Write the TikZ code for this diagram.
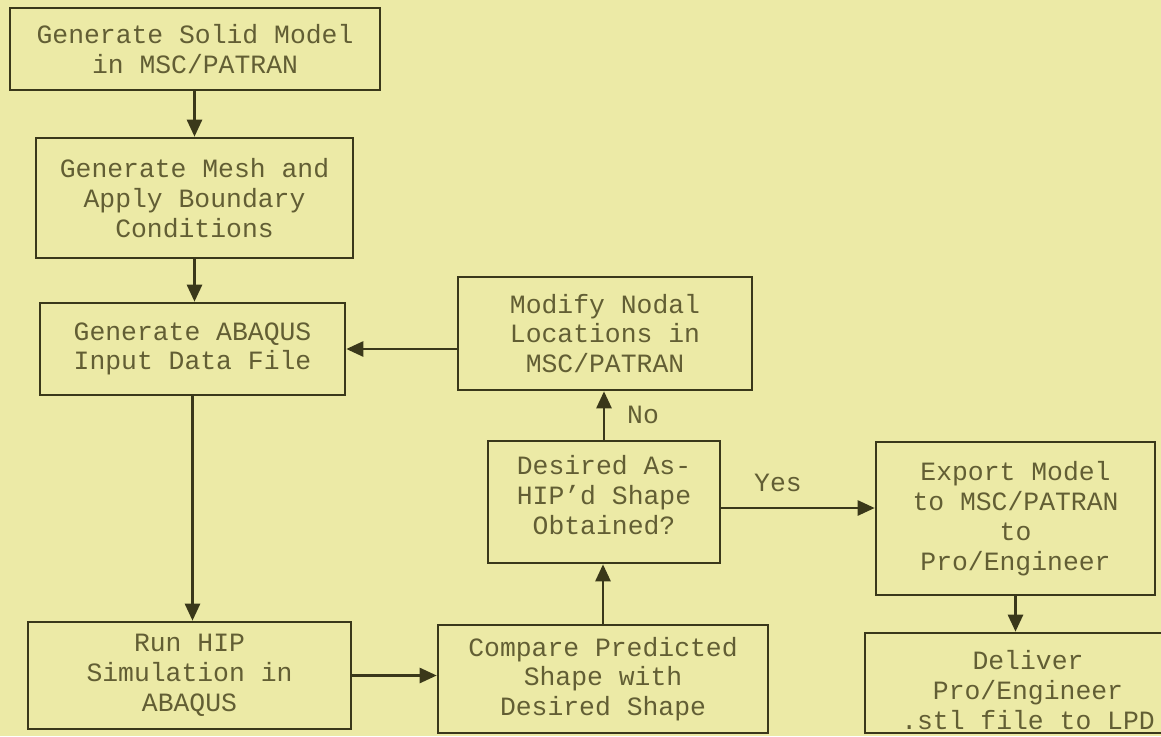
\documentclass[tikz,border=0pt]{standalone}
\usepackage{fontspec}
\setmainfont{Liberation Mono}
\usetikzlibrary{arrows.meta}
\definecolor{bgc}{RGB}{236,234,166}
\definecolor{linec}{RGB}{58,56,26}
\definecolor{textc}{RGB}{98,94,52}
\tikzset{
  box/.style={draw=linec, line width=2.6pt, rectangle, inner sep=0pt, align=center,
    text=textc, font=\fontsize{26.4}{29.8}\selectfont},
  txt/.style={inner sep=0pt, align=center, text=textc, font=\fontsize{26.4}{29.8}\selectfont},
  flow/.style={draw=linec, line width=2.6pt, -{Triangle[width=15pt,length=17pt]}},
  lbl/.style={text=textc, font=\fontsize{26.4}{29.8}\selectfont, inner sep=0pt}
}
\begin{document}
\begin{tikzpicture}[x=1pt,y=-1pt]
\fill[bgc] (0,0) rectangle (1161,736);
\useasboundingbox (0,0) rectangle (1161,736);
\node[box, minimum width=370, minimum height=82] (solid) at (195,49) {Generate Solid Model\\in MSC/PATRAN};
\node[box, minimum width=317, minimum height=120] (mesh) at (194.5,198) {Generate Mesh and\\Apply Boundary\\Conditions};
\node[box, minimum width=305, minimum height=92] (abq) at (192.5,349) {Generate ABAQUS\\Input Data File};
\node[box, minimum width=294, minimum height=113] (mod) at (605,333.5) {Modify Nodal\\Locations in\\MSC/PATRAN};
\node[box, minimum width=232, minimum height=122] (des) at (604,502) {};
\node[txt] (desT) at ([yshift=7pt]des.center) {Desired As-\\HIP'd Shape\\Obtained?};
\node[box, minimum width=279, minimum height=153] (exp) at (1015.5,518.5) {Export Model\\to MSC/PATRAN\\to\\Pro/Engineer};
\node[box, minimum width=326, minimum height=100] (del) at (1028,683) {};
\node[txt] (delT) at ([yshift=-7pt]del.center) {Deliver\\Pro/Engineer\\.stl file to LPD};
\node[box, minimum width=323, minimum height=107] (run) at (189.5,675.5) {Run HIP\\Simulation in\\ABAQUS};
\node[box, minimum width=330, minimum height=108] (cmp) at (603,679) {Compare Predicted\\Shape with\\Desired Shape};

\draw[flow] (solid.south -| mesh.north) -- (mesh.north);
\draw[flow] (mesh.south) -- (mesh.south |- abq.north);
\draw[flow] (abq.south) -- (abq.south |- run.north);
\draw[flow] (abq.east -| mod.west) -- (abq.east);
\draw[flow] (run.east) -- (run.east -| cmp.west);
\draw[flow] (cmp.north) -- (cmp.north |- des.south);
\draw[flow] (des.north) -- (des.north |- mod.south);
\draw[flow] ([yshift=-6pt]des.east) -- ([yshift=-6pt]des.east -| exp.west);
\draw[flow] (exp.south) -- (exp.south |- del.north);

\node[lbl] (no) at (643,415) {No};
\node[lbl] (yes) at (778,483) {Yes};
\end{tikzpicture}
\end{document}
